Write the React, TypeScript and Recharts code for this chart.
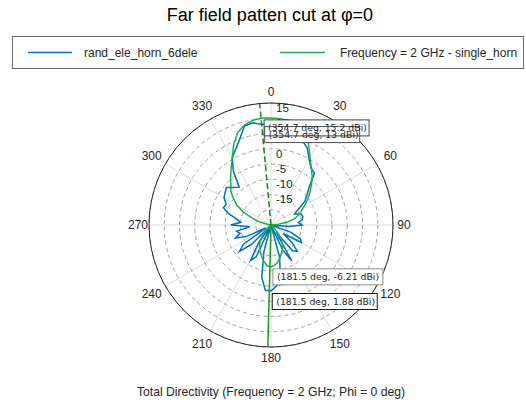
import React from 'react';
import { RadarChart, Radar, PolarGrid, PolarAngleAxis, PolarRadiusAxis } from 'recharts';

// ---------- data ----------
const angleCategories = [
  0, 5, 10, 15, 20, 25, 30, 35, 40, 45, 50, 55, 60, 65, 70, 75, 80, 85,
  90, 95, 100, 105, 110, 115, 120, 125, 130, 135, 140, 145, 150, 155, 160, 165, 170, 175,
  180, 185, 190, 195, 200, 205, 210, 215, 220, 225, 230, 235, 240, 245, 250, 255, 260, 265,
  270, 275, 280, 285, 290, 295, 300, 305, 310, 315, 320, 325, 330, 335, 340, 345, 350, 355,
];

const randEleHorn6dele = [
  13.4, 13.3, 13.4, 12.8, 9.6, 8.0, 5.0, 2.8, 2.2, -2.2, -4.6, -6.4, -9.6, -11.5, -9.5, -9.2, -9.6, -11,
  -9.8, -14, -20, -20, -13, -9.5, -8.5, -15, -11, -7.8, -9, -17, -6.5, -11, -20, -9, -2.5, 0.2,
  1.6, 1.5, -2.6, -11, -20, -8.5, -6.6, -13, -20, -11, -6.5, -9, -18, -11, -7.6, -9.5, -8.5, -13,
  -6.8, -10, -8.5, -5.6, -3.4, -3.8, -2.2, -1.6, -0.9, -2.6, -3.8, 1.5, 5.4, 7.4, 10, 13.6, 14.0, 13.1,
];

const singleHorn = [
  15.1, 15.0, 14.7, 13.8, 12.0, 9.2, 5.6, 3.0, 1.0, -1.2, -3.3, -5.3, -7.3, -9.0, -10.3, -12.0, -14.5, -17.5,
  -20, -20, -20, -20, -20, -20, -20, -20, -20, -18.5, -16, -14, -12.5, -11.2, -10, -8.8, -7.6, -6.7,
  -6.3, -6.5, -7.6, -8.8, -10, -11.2, -12.5, -14, -16, -18.5, -20, -20, -20, -20, -20, -20, -20, -20,
  -20, -20, -19, -16, -13.5, -10, -7.1, -5.0, -2.8, -1.4, 0.6, 2.8, 5.4, 9.0, 12.1, 13.9, 14.8, 15.2,
];

const seriesNames = ['rand_ele_horn_6dele', 'Frequency = 2 GHz - single_horn'];
const thetaTicks = [0, 30, 60, 90, 120, 150, 180, 210, 240, 270, 300, 330];
const rTicks = [-20, -15, -10, -5, 0, 5, 10, 15, 20];
const rLabelTicks = [-15, -10, -5, 0, 5, 10, 15];
const rDomain = [-20, 20];

const cursorAngles = [354.7, 181.5];
const tipAngles = [354.7, 354.7, 181.5, 181.5];
const tipValues = [15.2, 13, 1.88, -6.21];

const titleText = 'Far field patten cut at \u03c6=0';
const captionText = 'Total Directivity (Frequency = 2 GHz; Phi = 0 deg)';

// ---------- layout / style ----------
const W = 526;
const H = 402;
const CX = 271;
const CY = 225;
const R = 122;
const FONT = '"Liberation Sans", Arial, Helvetica, sans-serif';
const TIP_FONT = '"DejaVu Sans", sans-serif';
const BLUE = '#0072BD';
const GREEN = '#1fb04c';
const seriesColors = [BLUE, GREEN];
const cursorStyles = [
  { stroke: '#118811', dash: '6 3' },
  { stroke: '#1c9c1c', dash: undefined },
];
const tipBorders = ['#404040', '#505050', '#1a1a1a', '#8c8c8c'];

const data = angleCategories.map((a, i) => ({
  angle: a,
  rand: randEleHorn6dele[i],
  single: singleHorn[i],
}));

const gridAngles = thetaTicks.map((t) => 90 - t);

const toXY = (angleDeg: number, value: number) => {
  const r = ((value - rDomain[0]) / (rDomain[1] - rDomain[0])) * R;
  const rad = (angleDeg * Math.PI) / 180;
  return { x: CX + r * Math.sin(rad), y: CY - r * Math.cos(rad) };
};

const tipBoxes = tipAngles.map((a, i) => {
  const label = `(${a} deg, ${tipValues[i]} dBi)`;
  const p = toXY(a, tipValues[i]);
  const bx = p.x + 3;
  const by = p.y + 1.8;
  return { label, bx, by, bw: label.length * 5.0, bh: 16 };
});

const AngleTick = (props: any) => {
  const v = Number(props.payload?.value);
  if (!thetaTicks.includes(v)) return <g />;
  const rad = (v * Math.PI) / 180;
  const r = R + 11 + 5.5 * Math.abs(Math.sin(2 * rad));
  const x = CX + r * Math.sin(rad);
  const y = CY - r * Math.cos(rad);
  return (
    <text x={x} y={y} textAnchor="middle" dominantBaseline="central" fontFamily={FONT} fontSize={12} fill="#262626">
      {v}
    </text>
  );
};

const RadiusTick = (props: any) => {
  const v = Number(props.payload?.value);
  if (!rLabelTicks.includes(v)) return <g />;
  return (
    <text x={props.x + 5} y={props.y - 10.5} textAnchor="start" dominantBaseline="central" fontFamily={FONT} fontSize={11.5} fill="#262626">
      {v}
    </text>
  );
};

export default function App() {
  return (
    <div style={{ position: 'absolute', left: 0, top: 0, width: W, height: H, background: '#fff' }}>
      <RadarChart
        width={W}
        height={H}
        data={data}
        cx={CX}
        cy={CY}
        innerRadius={0}
        outerRadius={R}
        startAngle={90}
        endAngle={-270}
        margin={{ top: 0, right: 0, bottom: 0, left: 0 }}
      >
        <PolarGrid gridType="circle" polarAngles={gridAngles} polarRadius={[]} stroke="#dcdcdc" strokeWidth={1} />
        <PolarGrid gridType="circle" radialLines={false} polarAngles={[]} stroke="#a3a3a3" strokeDasharray="4 3" />
        <PolarAngleAxis
          dataKey="angle"
          type="category"
          axisLineType="circle"
          axisLine={{ stroke: '#262626', strokeWidth: 1 }}
          tickLine={false}
          tick={AngleTick}
        />
        <PolarRadiusAxis
          angle={90}
          type="number"
          domain={rDomain}
          ticks={rTicks}
          allowDataOverflow
          axisLine={false}
          tickLine={false}
          tick={RadiusTick}
        />
        <Radar
          name={seriesNames[0]}
          dataKey="rand"
          stroke={seriesColors[0]}
          strokeWidth={1.5}
          fill="none"
          fillOpacity={0}
          dot={false}
          isAnimationActive={false}
        />
        <Radar
          name={seriesNames[1]}
          dataKey="single"
          stroke={seriesColors[1]}
          strokeWidth={1.5}
          fill="none"
          fillOpacity={0}
          dot={false}
          isAnimationActive={false}
        />
      </RadarChart>
      <svg width={W} height={H} style={{ position: 'absolute', left: 0, top: 0, pointerEvents: 'none' }}>
        <g>
          {cursorAngles.map((a, i) => {
            const p = toXY(a, rDomain[1]);
            return (
              <line
                key={'c' + i}
                x1={CX}
                y1={CY}
                x2={p.x}
                y2={p.y}
                stroke={cursorStyles[i].stroke}
                strokeWidth={1.5}
                strokeDasharray={cursorStyles[i].dash}
              />
            );
          })}
        </g>
        <g>
          {tipBoxes.map((b, i) => (
            <rect key={'f' + i} x={b.bx} y={b.by} width={b.bw} height={b.bh} fill="#fff" stroke="none" />
          ))}
          {tipBoxes.map((b, i) => (
            <rect key={'s' + i} x={b.bx} y={b.by} width={b.bw} height={b.bh} fill="none" stroke={tipBorders[i]} strokeWidth={1} />
          ))}
          {tipBoxes.map((b, i) => (
            <text key={'x' + i} x={b.bx + 4} y={b.by + b.bh / 2} dominantBaseline="central" fontFamily={TIP_FONT} fontSize={9.3} fill="#262626">
              {b.label}
            </text>
          ))}
        </g>
        <text x={270} y={15} textAnchor="middle" dominantBaseline="central" fontFamily={FONT} fontSize={18} fill="#000">
          {titleText}
        </text>
        <rect x={12.5} y={36.5} width={511} height={32} fill="#fff" stroke="#6b6b6b" strokeWidth={1} />
        <line x1={28} x2={72} y1={52.5} y2={52.5} stroke={seriesColors[0]} strokeWidth={1.5} />
        <text x={84} y={52.5} dominantBaseline="central" fontFamily={FONT} fontSize={12} fill="#262626">
          {seriesNames[0]}
        </text>
        <line x1={280} x2={325} y1={52.5} y2={52.5} stroke={seriesColors[1]} strokeWidth={1.5} />
        <text x={340} y={52.5} dominantBaseline="central" fontFamily={FONT} fontSize={12} fill="#262626">
          {seriesNames[1]}
        </text>
        <text x={271} y={392} textAnchor="middle" dominantBaseline="central" fontFamily={FONT} fontSize={12.2} fill="#262626">
          {captionText}
        </text>
      </svg>
    </div>
  );
}
